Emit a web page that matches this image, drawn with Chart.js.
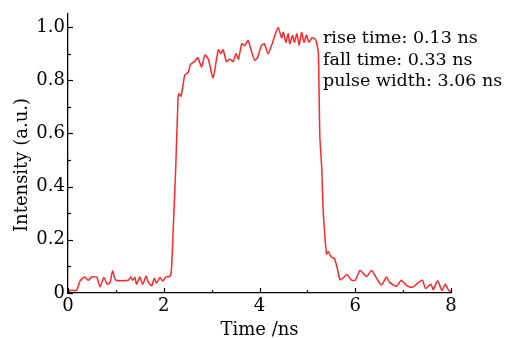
<!DOCTYPE html>
<html>
<head>
<meta charset="utf-8">
<script src="https://cdn.jsdelivr.net/npm/chart.js@4.4.0/dist/chart.umd.min.js"></script>
<style>
  html, body { margin: 0; padding: 0; background: #fff; }
  #wrap { width: 506px; height: 338px; }
</style>
</head>
<body>
<div id="wrap"><canvas id="pulseChart"></canvas></div>
<script>
const timeNs = [
  0, 0.05, 0.18, 0.25, 0.35, 0.42, 0.49, 0.6, 0.67, 0.75,
  0.82, 0.88, 0.93, 1.0, 1.26, 1.31, 1.35, 1.4, 1.43, 1.5,
  1.56, 1.63, 1.68, 1.75, 1.8, 1.85, 1.92, 1.98, 2.04, 2.13,
  2.16, 2.2, 2.25, 2.3, 2.32, 2.36, 2.41, 2.44, 2.51, 2.56,
  2.64, 2.71, 2.79, 2.86, 2.93, 3.03, 3.14, 3.19, 3.24, 3.31,
  3.38, 3.45, 3.51, 3.56, 3.63, 3.69, 3.76, 3.83, 3.9, 3.96,
  4.04, 4.1, 4.18, 4.25, 4.32, 4.39, 4.46, 4.5, 4.55, 4.6,
  4.63, 4.69, 4.73, 4.78, 4.83, 4.88, 4.93, 4.98, 5.03, 5.1,
  5.16, 5.19, 5.23, 5.26, 5.3, 5.33, 5.4, 5.44, 5.5, 5.56,
  5.62, 5.68, 5.75, 5.83, 5.92, 6.0, 6.1, 6.17, 6.24, 6.34,
  6.45, 6.55, 6.65, 6.72, 6.86, 6.96, 7.06, 7.16, 7.23, 7.3,
  7.4, 7.47, 7.58, 7.63, 7.72, 7.81, 7.88, 7.95, 8.0,
];

const intensity = [
  0, 0.01, 0.01, 0.045, 0.06, 0.048, 0.06, 0.06, 0.023, 0.058,
  0.033, 0.04, 0.083, 0.048, 0.048, 0.06, 0.048, 0.058, 0.033, 0.06,
  0.033, 0.063, 0.04, 0.027, 0.055, 0.037, 0.058, 0.045, 0.06, 0.063,
  0.085, 0.25, 0.47, 0.74, 0.75, 0.74, 0.79, 0.82, 0.83, 0.86,
  0.87, 0.885, 0.85, 0.895, 0.88, 0.81, 0.915, 0.9, 0.915, 0.87,
  0.88, 0.87, 0.9, 0.88, 0.937, 0.93, 0.95, 0.91, 0.875, 0.886,
  0.93, 0.937, 0.9, 0.93, 0.968, 0.999, 0.96, 0.98, 0.943, 0.975,
  0.937, 0.968, 0.943, 0.975, 0.933, 0.98, 0.943, 0.97, 0.943, 0.96,
  0.955, 0.943, 0.9, 0.59, 0.47, 0.31, 0.147, 0.155, 0.135, 0.13,
  0.097, 0.05, 0.057, 0.07, 0.048, 0.048, 0.085, 0.073, 0.062, 0.085,
  0.054, 0.03, 0.06, 0.04, 0.025, 0.048, 0.03, 0.022, 0.025, 0.037,
  0.048, 0.017, 0.033, 0.013, 0.046, 0.01, 0.033, 0.01, 0.006,
];

const notes = ["rise time: 0.13 ns", "fall time: 0.33 ns", "pulse width: 3.06 ns"];
const xTitle = "Time /ns";
const yTitle = "Intensity (a.u.)";

const serif = "'DejaVu Serif', serif";

// ticks point into the plot, minor ones shorter
const inwardTicks = {
  id: "inwardTicks",
  afterDatasetsDraw(chart) {
    const ctx = chart.ctx;
    const xs = chart.scales.x;
    const ys = chart.scales.y;
    ctx.save();
    ctx.strokeStyle = "#000";
    ctx.lineWidth = 1.2;
    xs.ticks.forEach((t) => {
      const px = Math.round(xs.getPixelForValue(t.value)) + 0.5;
      const len = Math.round(t.value) % 2 === 0 ? 5 : 3;
      ctx.beginPath();
      ctx.moveTo(px, xs.top);
      ctx.lineTo(px, xs.top - len);
      ctx.stroke();
    });
    ys.ticks.forEach((t) => {
      const py = Math.round(ys.getPixelForValue(t.value)) + 0.5;
      const len = Math.round(t.value * 10) % 2 === 0 ? 5 : 3;
      ctx.beginPath();
      ctx.moveTo(ys.right, py);
      ctx.lineTo(ys.right + len, py);
      ctx.stroke();
    });
    ctx.restore();
  },
};

const textLayer = {
  id: "textLayer",
  afterDraw(chart) {
    const ctx = chart.ctx;
    const area = chart.chartArea;
    ctx.save();
    ctx.fillStyle = "#000";
    ctx.font = "18px " + serif;

    ctx.textAlign = "center";
    ctx.textBaseline = "alphabetic";
    ctx.fillText(xTitle, (area.left + area.right) / 2, 335);

    ctx.translate(27, 165);
    ctx.rotate(-Math.PI / 2);
    ctx.fillText(yTitle, 0, 0);
    ctx.restore();

    ctx.save();
    ctx.fillStyle = "#000";
    ctx.font = "17.5px " + serif;
    ctx.textAlign = "left";
    notes.forEach((line, i) => {
      ctx.fillText(line, 323, 43 + i * 21.5);
    });
    ctx.restore();
  },
};

const pulseChart = document.getElementById("pulseChart");

new Chart(pulseChart, {
  type: "line",
  data: {
    datasets: [
      {
        data: timeNs.map((t, i) => ({ x: t, y: intensity[i] })),
        borderColor: "rgb(255, 40, 40)",
        borderWidth: 1.5,
        pointRadius: 0,
        tension: 0.2,
        fill: false,
      },
    ],
  },
  options: {
    responsive: true,
    maintainAspectRatio: false,
    animation: false,
    events: [],
    layout: {
      padding: { left: 0, top: 9, right: 55, bottom: 0 },
    },
    plugins: {
      legend: { display: false },
      tooltip: { enabled: false },
      title: { display: false },
    },
    scales: {
      x: {
        type: "linear",
        min: 0,
        max: 8,
        afterFit: (s) => { s.height = 45; },
        grid: { display: false, drawTicks: false },
        border: { display: true, color: "#000", width: 1.3 },
        ticks: {
          stepSize: 1,
          autoSkip: false,
          maxRotation: 0,
          padding: 3,
          color: "#000",
          font: { family: serif, size: 18 },
          callback: (v) => (Math.round(v) % 2 === 0 ? String(v) : ""),
        },
      },
      y: {
        type: "linear",
        min: 0,
        max: 1.05,
        afterFit: (s) => { s.width = 68; },
        grid: { display: false, drawTicks: false },
        border: { display: true, color: "#000", width: 1.3 },
        ticks: {
          stepSize: 0.1,
          includeBounds: false,
          autoSkip: false,
          padding: 3,
          color: "#000",
          font: { family: serif, size: 18 },
          callback: (v) => {
            const k = Math.round(v * 10);
            if (k % 2 !== 0) return "";
            return k === 0 ? "0" : (k / 10).toFixed(1);
          },
        },
      },
    },
  },
  plugins: [inwardTicks, textLayer],
});
</script>
</body>
</html>
